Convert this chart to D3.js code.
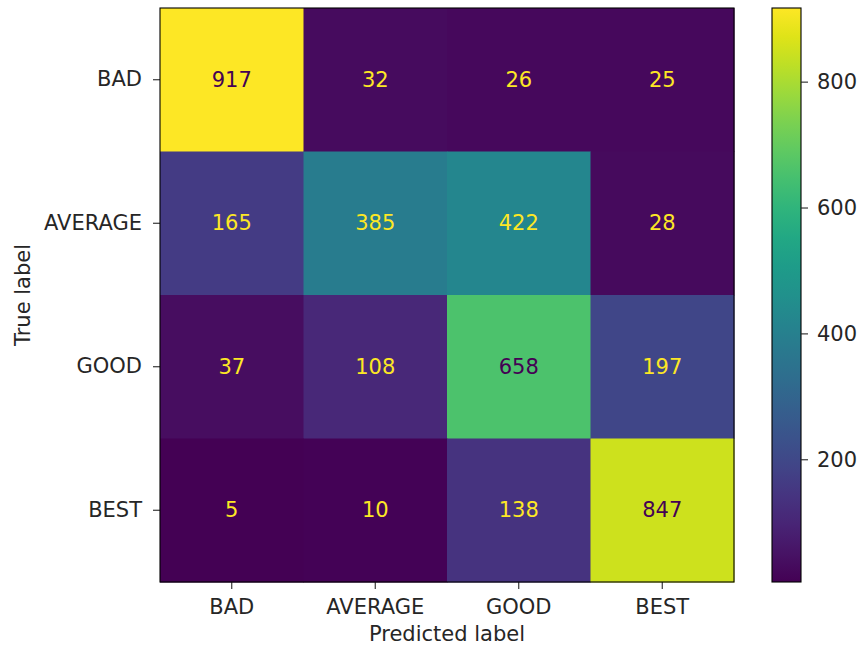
<!DOCTYPE html>
<html>
<head>
<meta charset="utf-8">
<script src="https://cdn.jsdelivr.net/npm/d3@7"></script>
<style>
  body { margin: 0; background: #fff; }
  svg text { font-family: "DejaVu Sans", sans-serif; fill: #262626; }
</style>
</head>
<body>
<svg></svg>
<script>
const labels = ['BAD', 'AVERAGE', 'GOOD', 'BEST'];
const rowBad = [917, 32, 26, 25];
const rowAverage = [165, 385, 422, 28];
const rowGood = [37, 108, 658, 197];
const rowBest = [5, 10, 138, 847];
const cbarTicks = [200, 400, 600, 800];

const rows = [rowBad, rowAverage, rowGood, rowBest];

const size = {w: 860, h: 647};
const m = {l: 160, t: 8, side: 574};
const cb = {x: 772, w: 29};
const fontSize = 21;

const svg = d3.select('svg')
    .attr('width', size.w)
    .attr('height', size.h);

//flatten to cells
const cells = [];
rows.forEach((r, i) => r.forEach((v, j) => cells.push({row: labels[i], col: labels[j], v: v})));

const all = cells.map(d => d.v);
const vmin = d3.min(all), vmax = d3.max(all);
const color = d3.scaleSequential(d3.interpolateViridis).domain([vmin, vmax]);
const thresh = (vmin + vmax) / 2;

const x = d3.scaleBand().domain(labels).range([m.l, m.l + m.side]);
const y = d3.scaleBand().domain(labels).range([m.t, m.t + m.side]);

const g = svg.append('g');

g.selectAll('rect.cell')
    .data(cells)
    .enter()
    .append('rect')
    .attr('class', 'cell')
    .attr('x', d => x(d.col))
    .attr('y', d => y(d.row))
    .attr('width', x.bandwidth() + 0.5)
    .attr('height', y.bandwidth() + 0.5)
    .attr('fill', d => color(d.v));

g.selectAll('text.val')
    .data(cells)
    .enter()
    .append('text')
    .attr('class', 'val')
    .attr('x', d => x(d.col) + x.bandwidth() / 2)
    .attr('y', d => y(d.row) + y.bandwidth() / 2)
    .attr('text-anchor', 'middle')
    .attr('dominant-baseline', 'central')
    .style('font-size', fontSize + 'px')
    .style('fill', d => d.v > thresh ? color(vmin) : color(vmax))
    .text(d => d.v);

//axes
const xAxis = d3.axisBottom(x).tickSize(7).tickPadding(10);
const yAxis = d3.axisLeft(y).tickSize(7).tickPadding(11);

const xg = svg.append('g')
    .attr('transform', `translate(0,${m.t + m.side})`)
    .call(xAxis);
const yg = svg.append('g')
    .attr('transform', `translate(${m.l},0)`)
    .call(yAxis);

[xg, yg].forEach(a => {
    a.select('.domain').remove();
    a.selectAll('line').attr('stroke', '#262626').attr('stroke-width', 1.1);
    a.selectAll('text').style('font-size', fontSize + 'px').attr('font-family', null);
});

svg.append('rect')
    .attr('x', m.l).attr('y', m.t)
    .attr('width', m.side).attr('height', m.side)
    .attr('fill', 'none')
    .attr('stroke', '#000')
    .attr('stroke-width', 1.1);

svg.append('text')
    .attr('x', m.l + m.side / 2)
    .attr('y', 641)
    .attr('text-anchor', 'middle')
    .style('font-size', fontSize + 'px')
    .text('Predicted label');

svg.append('text')
    .attr('transform', `translate(30,${m.t + m.side / 2}) rotate(-90)`)
    .attr('text-anchor', 'middle')
    .style('font-size', fontSize + 'px')
    .text('True label');

//colorbar
const defs = svg.append('defs');
const grad = defs.append('linearGradient')
    .attr('id', 'cbar')
    .attr('x1', 0).attr('y1', 1).attr('x2', 0).attr('y2', 0);
d3.range(0, 1.0001, 0.05).forEach(t => {
    grad.append('stop')
        .attr('offset', t)
        .attr('stop-color', d3.interpolateViridis(t));
});

const cy = d3.scaleLinear().domain([vmin, vmax]).range([m.t + m.side, m.t]);

svg.append('rect')
    .attr('x', cb.x).attr('y', m.t)
    .attr('width', cb.w).attr('height', m.side)
    .attr('fill', 'url(#cbar)')
    .attr('stroke', '#000')
    .attr('stroke-width', 1.1);

const cg = svg.append('g')
    .attr('transform', `translate(${cb.x + cb.w},0)`)
    .call(d3.axisRight(cy).tickValues(cbarTicks).tickSize(7).tickPadding(9));
cg.select('.domain').remove();
cg.selectAll('line').attr('stroke', '#262626').attr('stroke-width', 1.1);
cg.selectAll('text').style('font-size', fontSize + 'px').attr('font-family', null);
</script>
</body>
</html>
